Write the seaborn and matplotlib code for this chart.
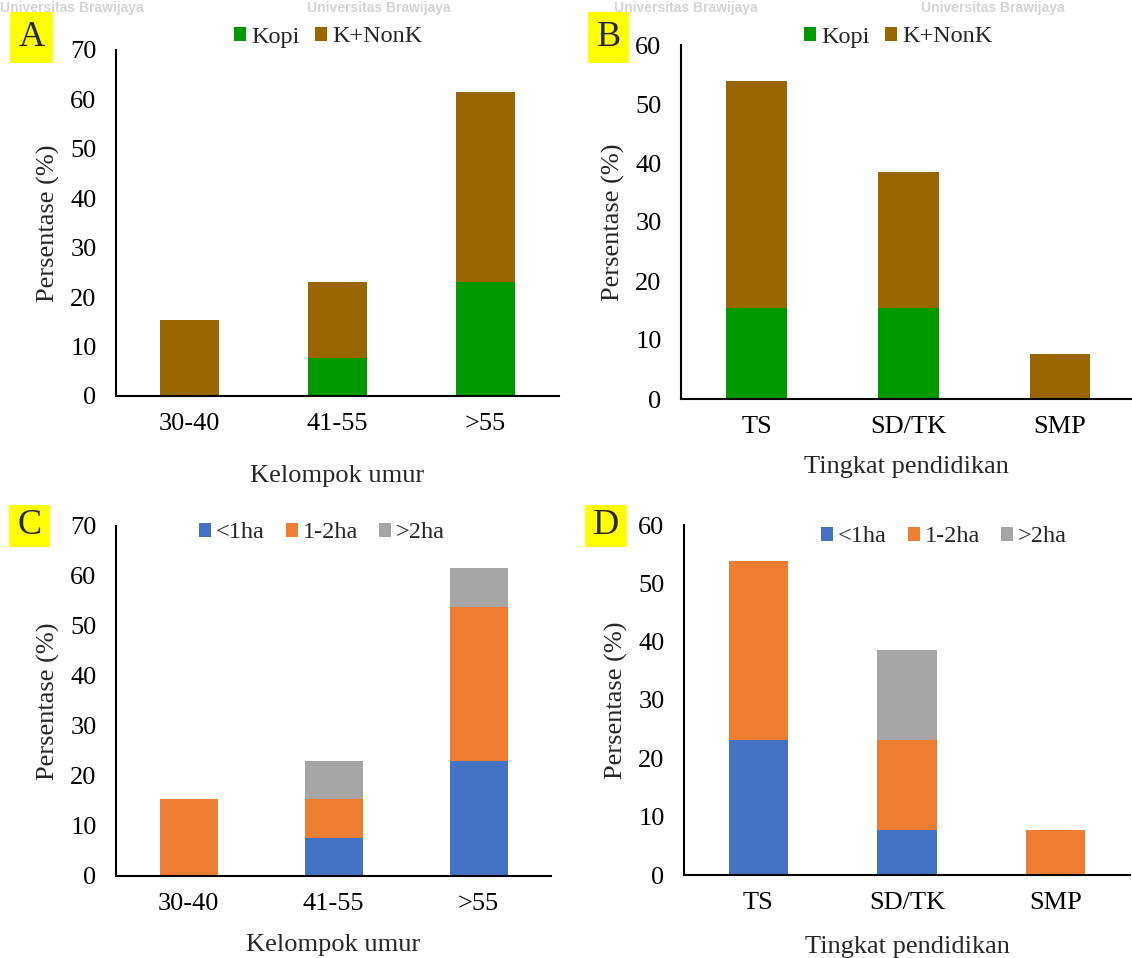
import numpy as np
import matplotlib
matplotlib.use("Agg")
import matplotlib.pyplot as plt
import seaborn as sns
from matplotlib.patches import Patch, Rectangle

# ---------------- data ----------------
age_groups = ["30-40", "41-55", ">55"]
edu_levels = ["TS", "SD/TK", "SMP"]

a_kopi = [0.0, 7.7, 23.1]
a_knonk = [15.4, 15.4, 38.5]
b_kopi = [15.4, 15.4, 0.0]
b_knonk = [38.5, 23.1, 7.7]

c_lt1 = [0.0, 7.7, 23.1]
c_1to2 = [15.4, 7.7, 30.8]
c_gt2 = [0.0, 7.7, 7.7]
d_lt1 = [23.1, 7.7, 0.0]
d_1to2 = [30.8, 15.4, 7.7]
d_gt2 = [0.0, 15.4, 0.0]

legend_ab = ["Kopi", "K+NonK"]
legend_cd = ["<1ha", "1-2ha", ">2ha"]
colors_ab = ["#009900", "#996600"]
colors_cd = ["#4472C4", "#ED7D31", "#A5A5A5"]

xlabel_age = "Kelompok umur"
xlabel_edu = "Tingkat pendidikan"
ylabel = "Persentase (%)"
panel_letters = ["A", "B", "C", "D"]
watermark = "Universitas Brawijaya"

# ---------------- style ----------------
sns.set_style("white")
plt.rcParams["font.family"] = ["Liberation Serif", "DejaVu Serif"]
FS = 19
LFS = 17.5

W, H = 1132, 958
fig = plt.figure(figsize=(W / 100, H / 100), dpi=100)


def px_axes(l, t, r, b):
    return fig.add_axes([l / W, 1 - b / H, (r - l) / W, (b - t) / H])


def stacked(ax, cats, series, colors, ymax, xright, xlabel, labelpad):
    cum = np.cumsum(np.array(series), axis=0)
    for i in range(len(series) - 1, -1, -1):
        sns.barplot(x=cats, y=cum[i], order=cats, color=colors[i],
                    saturation=1, width=0.4, linewidth=0, ax=ax)
    ax.set_xlim(-0.5, xright)
    ax.set_ylim(0, ymax)
    ax.set_yticks(np.arange(0, ymax + 1, 10))
    for s in ["top", "right"]:
        ax.spines[s].set_visible(False)
    for s in ["left", "bottom"]:
        ax.spines[s].set_color("black")
        ax.spines[s].set_linewidth(1.5)
    ax.tick_params(axis="both", length=0, labelsize=FS, colors="black")
    ax.tick_params(axis="y", pad=14)
    ax.tick_params(axis="x", pad=12)
    ax.set_xlabel(xlabel, fontsize=FS, labelpad=labelpad)
    ax.set_ylabel(ylabel, fontsize=FS, labelpad=7)
    ax.grid(False)


def add_legend(labels, colors, cx, cy, colsp):
    handles = [Patch(facecolor=c, edgecolor="none") for c in colors]
    fig.legend(handles, labels, loc="center", bbox_to_anchor=(cx / W, 1 - cy / H),
               ncol=len(labels), frameon=False, fontsize=LFS,
               handlelength=0.5, handleheight=0.5, handletextpad=0.2,
               columnspacing=colsp, borderaxespad=0, borderpad=0)


def panel_letter(letter, l, t, r, b):
    fig.patches.append(Rectangle((l / W, 1 - b / H), (r - l) / W, (b - t) / H,
                                 transform=fig.transFigure, facecolor="#FFFF00",
                                 edgecolor="none", zorder=0))
    fig.text((l + r) / 2 / W, 1 - (t + b) / 2 / H, letter, fontsize=26,
             ha="center", va="center")


# faint watermark strip at the top
for x0 in [0, 307, 614, 921]:
    fig.text(x0 / W, 1 - 1 / H, watermark, fontsize=10,
             family="Liberation Sans", weight="bold", color="#d4d4d4",
             ha="left", va="top", zorder=-1)

axA = px_axes(116, 50, 559, 396)
stacked(axA, age_groups, [a_kopi, a_knonk], colors_ab, 70, 2.5, xlabel_age, 22)
axB = px_axes(681, 45, 1132, 399)
stacked(axB, edu_levels, [b_kopi, b_knonk], colors_ab, 60, 2.475, xlabel_edu, 13)
axC = px_axes(116, 526, 551, 876)
stacked(axC, age_groups, [c_lt1, c_1to2, c_gt2], colors_cd, 70, 2.5, xlabel_age, 14)
axD = px_axes(684, 525, 1130, 875)
stacked(axD, edu_levels, [d_lt1, d_1to2, d_gt2], colors_cd, 60, 2.5, xlabel_edu, 16)

add_legend(legend_ab, colors_ab, 328, 37, 0.65)
add_legend(legend_ab, colors_ab, 898, 37, 0.65)
add_legend(legend_cd, colors_cd, 322, 533, 0.85)
add_legend(legend_cd, colors_cd, 944, 537, 0.85)

panel_letter("A", 10, 12, 53, 63)
panel_letter("B", 588, 12, 629, 63)
panel_letter("C", 9, 505, 50, 547)
panel_letter("D", 585, 505, 627, 547)

fig.savefig("out.png", dpi=100, facecolor="white")
